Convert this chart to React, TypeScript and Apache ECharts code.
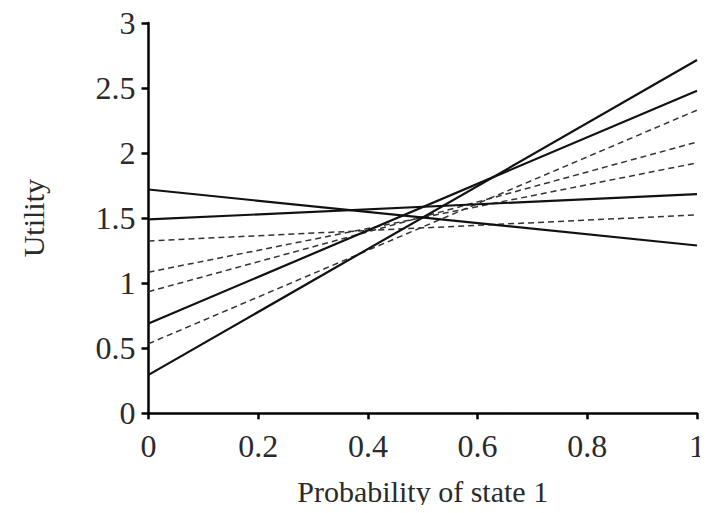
import React, { useEffect, useRef } from "react";
import * as echarts from "echarts";

// x positions (probability of state 1)
const xEnds = [0, 1];

// Solid lines: utility at p=0 and p=1
const solidA = [1.72, 1.29];
const solidB = [1.49, 1.685];
const solidC = [0.69, 2.48];
const solidD = [0.295, 2.715];

// Dashed lines: utility at p=0 and p=1
const dashedA = [1.325, 1.525];
const dashedB = [1.085, 1.925];
const dashedC = [0.935, 2.085];
const dashedD = [0.535, 2.33];

const solidSeries = [solidA, solidB, solidC, solidD];
const dashedSeries = [dashedA, dashedB, dashedC, dashedD];

const FONT = "'Liberation Serif', 'DejaVu Serif', serif";

export default function App() {
  const ref = useRef<HTMLDivElement>(null);
  useEffect(() => {
    if (!ref.current) return;
    const chart = echarts.init(ref.current, undefined, { renderer: "svg" });
    const mk = (vals: number[], dashed: boolean) => ({
      type: "line",
      data: xEnds.map((x, i) => [x, vals[i]]),
      showSymbol: false,
      symbol: "none",
      lineStyle: dashed
        ? { color: "#333", width: 1.5, type: [6, 4] }
        : { color: "#111", width: 2.2, type: "solid" },
      silent: true,
    });
    chart.setOption({
      animation: false,
      backgroundColor: "#fff",
      grid: { left: 148.5, right: 9.7, top: 23, bottom: 99.7, containLabel: false },
      xAxis: {
        type: "value",
        min: 0,
        max: 1,
        interval: 0.2,
        name: "Probability of state 1",
        nameLocation: "middle",
        nameGap: 63,
        nameTextStyle: { fontFamily: FONT, fontSize: 30, color: "#2a2a2a" },
        axisLine: { show: true, onZero: false, lineStyle: { color: "#000", width: 2.5 } },
        axisTick: { show: true, length: 6, inside: false, lineStyle: { color: "#000", width: 2.5 } },
        axisLabel: { fontFamily: FONT, fontSize: 32, color: "#2a2a2a", margin: 17 },
        splitLine: { show: false },
      },
      yAxis: {
        type: "value",
        min: 0,
        max: 3,
        interval: 0.5,
        name: "Utility",
        nameLocation: "middle",
        nameGap: 100,
        nameRotate: 90,
        nameTextStyle: { fontFamily: FONT, fontSize: 30, color: "#2a2a2a" },
        axisLine: { show: true, onZero: false, lineStyle: { color: "#000", width: 2.5 } },
        axisTick: { show: true, length: 7, inside: false, lineStyle: { color: "#000", width: 2.5 } },
        axisLabel: { fontFamily: FONT, fontSize: 32, color: "#2a2a2a", margin: 13 },
        splitLine: { show: false },
      },
      series: [
        ...dashedSeries.map((s) => mk(s, true)),
        ...solidSeries.map((s) => mk(s, false)),
      ],
    });
    return () => chart.dispose();
  }, []);
  return <div ref={ref} style={{ width: 708, height: 513, margin: -8 }} />;
}
